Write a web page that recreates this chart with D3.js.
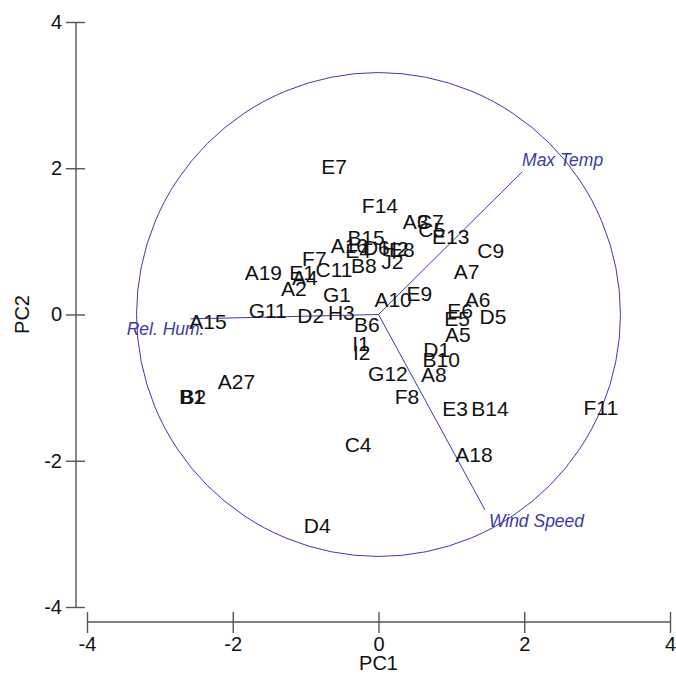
<!DOCTYPE html>
<html>
<head>
<meta charset="utf-8">
<script src="https://cdn.jsdelivr.net/npm/d3@7"></script>
<style>
  body { margin: 0; background: #fff; }
  svg { display: block; font-family: Arial, "Liberation Sans", sans-serif; }
</style>
</head>
<body>
<svg id="chart" width="676" height="679"></svg>
<script>
// Site scores on the first two principal components
const siteLabels = ["E7","F14","A3","C7","C5","E13","B15","A16","E4","D6","H2","E8","B8","J2","C11",
  "A19","F7","E1","A4","A2","G1","G11","D2","H3","A10","B6","E9","A7","C9","I1","I2","G12","A8","F8",
  "D1","B10","A5","E6","E5","A6","D5","E3","B14","F11","A18","C4","D4","A27","B1","B2","A15"];
const pc1 = [-0.61,0.02,0.51,0.71,0.73,0.99,-0.17,-0.40,-0.28,-0.03,0.23,0.32,-0.20,0.19,-0.61,
  -1.58,-0.88,-1.05,-1.01,-1.16,-0.57,-1.52,-0.93,-0.51,0.20,-0.16,0.56,1.21,1.54,-0.24,-0.23,0.13,0.76,0.39,
  0.80,0.86,1.09,1.12,1.08,1.36,1.57,1.05,1.53,3.05,1.31,-0.28,-0.84,-1.95,-2.56,-2.54,-2.34];
const pc2 = [2.02,1.49,1.27,1.27,1.16,1.07,1.06,0.95,0.87,0.92,0.91,0.89,0.67,0.73,0.62,
  0.57,0.76,0.57,0.51,0.35,0.28,0.06,-0.01,0.03,0.20,-0.14,0.29,0.59,0.87,-0.40,-0.52,-0.81,-0.82,-1.12,
  -0.48,-0.61,-0.27,0.05,-0.05,0.20,-0.03,-1.29,-1.29,-1.27,-1.91,-1.78,-2.88,-0.91,-1.12,-1.12,-0.09];

// Environmental variable loadings (biplot vectors)
const varNames = ["Max Temp","Rel. Hum.","Wind Speed"];
const varX = [1.97,-2.58,1.46];
const varY = [1.95,-0.06,-2.67];

// Axis ticks
const ticks = [-4,-2,0,2,4];
const circleRadius = 3.32;

const svg = d3.select("#chart");
const x = d3.scaleLinear().domain([-4,4]).range([87,670]);
const y = d3.scaleLinear().domain([-4,4]).range([607,22]);
const blue = "#3b3ba8";
const axisColor = "#555";
const fmt = d => String(d);

// Y axis
const yAxis = svg.append("g").attr("transform", `translate(76,0)`)
  .call(d3.axisLeft(y).tickValues(ticks).tickSize(10).tickPadding(4).tickFormat(fmt));
yAxis.selectAll(".tick line").attr("x2", -10).attr("x1", 9);
// X axis
const xAxis = svg.append("g").attr("transform", `translate(0,622)`)
  .call(d3.axisBottom(x).tickValues(ticks).tickSize(11).tickPadding(4).tickFormat(fmt));
xAxis.selectAll(".tick line").attr("y1", -10);

[yAxis, xAxis].forEach(g => {
  g.select(".domain").remove();
  g.selectAll(".tick line").attr("stroke", axisColor).attr("stroke-width", 1.4);
  g.selectAll(".tick text").attr("font-size", 20).attr("fill", "#111")
    .attr("font-family", "Arial, 'Liberation Sans', sans-serif");
});
yAxis.append("line").attr("x1", 0).attr("x2", 0).attr("y1", y(4)).attr("y2", y(-4))
  .attr("stroke", axisColor).attr("stroke-width", 1.4);
xAxis.append("line").attr("y1", 0).attr("y2", 0).attr("x1", x(-4)).attr("x2", x(4))
  .attr("stroke", axisColor).attr("stroke-width", 1.4);

// Axis titles
svg.append("text").attr("x", x(0)).attr("y", 670).attr("text-anchor", "middle")
  .attr("font-size", 20).attr("fill", "#111").text("PC1");
svg.append("text").attr("transform", `translate(29,${y(0)}) rotate(-90)`)
  .attr("text-anchor", "middle").attr("font-size", 20).attr("fill", "#111").text("PC2");

// Equilibrium circle
svg.append("circle").attr("cx", x(0)).attr("cy", y(0))
  .attr("r", x(circleRadius) - x(0))
  .attr("fill", "none").attr("stroke", blue).attr("stroke-width", 1);

// Variable vectors
const labelOffsets = [[0, -6, "start"], [14, 16, "end"], [4, 17, "start"]];
varNames.forEach((name, i) => {
  svg.append("line").attr("x1", x(0)).attr("y1", y(0))
    .attr("x2", x(varX[i])).attr("y2", y(varY[i]))
    .attr("stroke", blue).attr("stroke-width", 1);
  svg.append("text")
    .attr("x", x(varX[i]) + labelOffsets[i][0])
    .attr("y", y(varY[i]) + labelOffsets[i][1])
    .attr("text-anchor", labelOffsets[i][2])
    .attr("font-size", 17.5).attr("font-style", "italic").attr("fill", blue)
    .text(name);
});

// Site labels
svg.append("g").selectAll("text").data(siteLabels).join("text")
  .attr("x", (d, i) => x(pc1[i]))
  .attr("y", (d, i) => y(pc2[i]))
  .attr("dy", "0.36em")
  .attr("text-anchor", "middle")
  .attr("font-size", 21).attr("fill", "#111")
  .text(d => d);
</script>
</body>
</html>
